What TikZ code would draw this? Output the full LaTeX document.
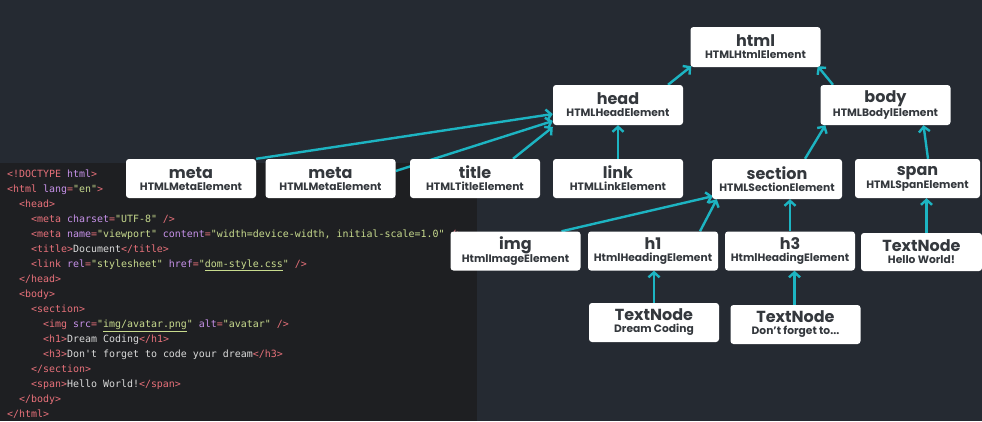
\documentclass[tikz,border=0pt]{standalone}
\usepackage{fontspec}
\setmainfont{Poppins}
\setmonofont{DejaVu Sans Mono}
\usetikzlibrary{arrows.meta,calc}
\definecolor{bgc}{HTML}{252A32}
\definecolor{codebg}{HTML}{1E1F22}
\definecolor{tealc}{HTML}{1DB4C2}
\definecolor{boxtext}{HTML}{34383D}
\definecolor{ctag}{HTML}{E8717A}
\definecolor{catt}{HTML}{C792EA}
\definecolor{cstr}{HTML}{C8DB8E}
\definecolor{ctxt}{HTML}{DADADA}
\definecolor{titlec}{HTML}{E9DDB8}
\newcommand{\cTg}[1]{\textcolor{ctag}{#1}}
\newcommand{\cAt}[1]{\textcolor{catt}{#1}}
\newcommand{\cSt}[1]{\textcolor{cstr}{#1}}
\newcommand{\cTx}[1]{\textcolor{ctxt}{#1}}
\newcommand{\nm}[2]{{\fontsize{16}{16}\selectfont\bfseries #1}\\[0pt]{\fontsize{10.7}{12}\selectfont\bfseries #2}}
\pgfdeclarelayer{back}
\pgfdeclarelayer{edges}
\pgfsetlayers{back,edges,main}
\tikzset{
  box/.style={fill=white, rounded corners=3pt, minimum width=130pt, minimum height=40pt, inner sep=0pt, align=center, text=boxtext},
  link/.style={draw=tealc, line width=2.4pt, -{Straight Barb[length=5pt,width=11pt]}},
  codeline/.style={anchor=base west, inner sep=0pt, font=\ttfamily\fontsize{9.95}{12}\selectfont}
}
\begin{document}
\begin{tikzpicture}[x=1pt,y=-1pt]
\useasboundingbox (0,0) rectangle (982,421);
\clip (0,0) rectangle (982,421);
\begin{pgfonlayer}{back}
\fill[bgc] (0,0) rectangle (982,421);
\fill[codebg] (0,163) rectangle (477,421);
\node[anchor=base west, inner sep=0pt, text=titlec, font=\fontsize{64}{64}\selectfont\bfseries] (ttl) at (606,-4) {DOM Tree};
% code
\node[codeline] (c1) at (7,177) {\cTg{<!DOCTYPE} \cAt{html}\cTg{>}};
\node[codeline] (c2) at (7,192) {\cTg{<html} \cAt{lang}\cTg{=}\cSt{"en"}\cTg{>}};
\node[codeline] (c3) at (19,207) {\cTg{<head>}};
\node[codeline] (c4) at (31,222) {\cTg{<meta} \cAt{charset}\cTg{=}\cSt{"UTF-8"} \cTg{/>}};
\node[codeline] (c5) at (31,237) {\cTg{<meta} \cAt{name}\cTg{=}\cSt{"viewport"} \cAt{content}\cTg{=}\cSt{"width=device-width, initial-scale=1.0"} \cTg{/>}};
\node[codeline] (c6) at (31,252) {\cTg{<title>}\cTx{Document}\cTg{</title>}};
\node[codeline] (c7) at (31,267) {\cTg{<link} \cAt{rel}\cTg{=}\cSt{"stylesheet"} \cAt{href}\cTg{=}\cSt{"\underline{dom-style.css}"} \cTg{/>}};
\node[codeline] (c8) at (19,282.5) {\cTg{</head>}};
\node[codeline] (c9) at (19,297.5) {\cTg{<body>}};
\node[codeline] (c10) at (31,312.5) {\cTg{<section>}};
\node[codeline] (c11) at (43,327.5) {\cTg{<img} \cAt{src}\cTg{=}\cSt{"\underline{img/avatar.png}"} \cAt{alt}\cTg{=}\cSt{"avatar"} \cTg{/>}};
\node[codeline] (c12) at (43,342.5) {\cTg{<h1>}\cTx{Dream Coding}\cTg{</h1>}};
\node[codeline] (c13) at (43,357.5) {\cTg{<h3>}\cTx{Don't forget to code your dream}\cTg{</h3>}};
\node[codeline] (c14) at (31,372.5) {\cTg{</section>}};
\node[codeline] (c15) at (31,387.5) {\cTg{<span>}\cTx{Hello World!}\cTg{</span>}};
\node[codeline] (c16) at (19,402.5) {\cTg{</body>}};
\node[codeline] (c17) at (7,417.5) {\cTg{</html>}};
\end{pgfonlayer}
% nodes
\node[box] (html) at (755.5,47) {\nm{html}{HTMLHtmlElement}};
\node[box] (head) at (618,105) {\nm{head}{HTMLHeadElement}};
\node[box] (body) at (885.5,105) {\nm{body}{HTMLBodylElement}};
\node[box, minimum height=39pt] (meta1) at (191,178.5) {\nm{meta}{HTMLMetaElement}};
\node[box, minimum height=39pt] (meta2) at (330.5,178.5) {\nm{meta}{HTMLMetaElement}};
\node[box, minimum height=39pt] (title) at (475,178.5) {\nm{title}{HTMLTitleElement}};
\node[box, minimum height=39pt] (lnk) at (618,178.5) {\nm{link}{HTMLLinkElement}};
\node[box] (section) at (777,179) {\nm{section}{HTMLSectionElement}};
\node[box, minimum width=125pt, minimum height=39pt] (span) at (917.5,178.5) {\nm{span}{HTMLSpanElement}};
\node[box, minimum height=39pt] (img) at (515.5,251) {\nm{img}{HtmlImageElement}};
\node[box, minimum height=39pt] (h1) at (653,251) {\nm{h1}{HtmlHeadingElement}};
\node[box, minimum height=39pt] (h3) at (790,251) {\nm{h3}{HtmlHeadingElement}};
\node[box, minimum width=121pt, minimum height=38pt] (tnHello) at (921.5,252) {\nm{TextNode}{Hello World!}};
\node[box, minimum height=39pt] (tnDream) at (654,322.5) {\nm{TextNode}{Dream Coding}};
\node[box, minimum height=39pt] (tnDont) at (795.5,324.5) {\nm{TextNode}{Don't forget to...}};
\coordinate (hsA) at ($(tnHello.north)+(5,0)$);
\coordinate (dnA) at ($(tnDont.north)+(-1,0)$);
% edges
\begin{pgfonlayer}{edges}
\draw[link] ($(head.north)+(50,0)$) -- ($(html.south west)+(1,-1)$);
\draw[link] ($(body.north)+(-52.5,0)$) -- ($(html.south east)+(-3,-1)$);
\draw[link] (meta1.north east) -- ($(head.west)+(0,9)$);
\draw[link] ($(meta2.east)+(0,-7.5)$) -- ($(head.west)+(0,16)$);
\draw[link] ($(title.north)+(38,0)$) -- ($(head.west)+(0,22)$);
\draw[link] (lnk.north) -- (head.south);
\draw[link] ($(section.north)+(28,0)$) -- ($(body.south west)+(5,0)$);
\draw[link] ($(span.north)+(10.5,0)$) -- ($(body.south)+(38,0)$);
\draw[link] ($(img.north)+(46,0)$) -- ($(section.south west)+(1,-3)$);
\draw[link] ($(h1.north)+(47,0)$) -- ($(section.south west)+(5,0)$);
\draw[link] (h3.north) -- (h3.north |- section.south);
\draw[link] (hsA) -- (hsA |- span.south);
\draw[link] (tnDream.north) -- (tnDream.north |- h1.south);
\draw[link] (dnA) -- (dnA |- h3.south);
\end{pgfonlayer}
\end{tikzpicture}
\end{document}
